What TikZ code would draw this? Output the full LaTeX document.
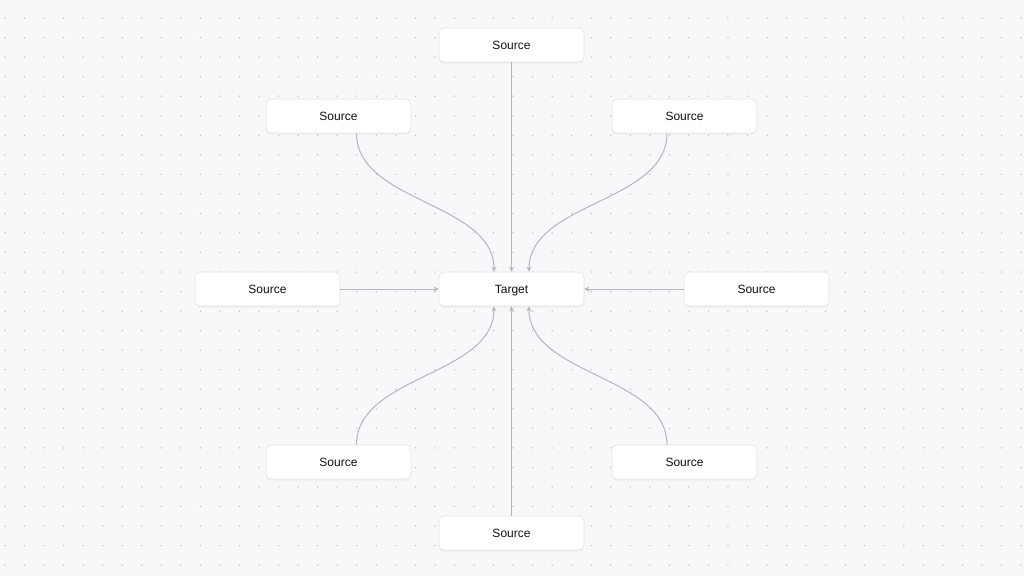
\documentclass[tikz,border=0pt]{standalone}
\usepackage{fontspec}
\setmainfont{Liberation Sans}
\usetikzlibrary{arrows.meta,shadows}
\definecolor{canvas}{HTML}{F7F8FA}
\definecolor{griddot}{HTML}{B8BAC0}
\definecolor{wire}{HTML}{B5B5BB}
\definecolor{rim}{HTML}{E4E5E8}
\definecolor{ink}{HTML}{111111}
\tikzset{
  card/.style={draw=rim, line width=0.6pt, fill=white, rounded corners=5pt,
    minimum width=145pt, minimum height=34pt, inner sep=0pt,
    text height=9.6pt, text depth=1.6pt,
    text=ink, font=\fontsize{12}{14}\selectfont,
    drop shadow={opacity=0.09, shadow xshift=0pt, shadow yshift=-1.5pt}},
  wireline/.style={draw=wire, line width=1pt, -{Stealth[length=5pt,width=5pt]}}
}
\begin{document}
\begin{tikzpicture}[x=1pt,y=-1pt]
  % canvas and dotted grid
  \fill[canvas] (0,0) rectangle (1024,576);
  \useasboundingbox (0,0) rectangle (1024,576);
  \foreach \i in {0,...,52}{
    \foreach \j in {0,...,28}{
      \fill[griddot] ({5+\i*19.54},{18+\j*19.54}) circle (0.75pt);
    }
  }

  % nodes
  \node[card] (t)  at (511.5,289) {Target};
  \node[card] (n)  at (511.5,45)  {Source};
  \node[card] (nw) at (338.5,116) {Source};
  \node[card] (ne) at (684.5,116) {Source};
  \node[card] (w)  at (267.5,289) {Source};
  \node[card] (e)  at (756.5,289) {Source};
  \node[card] (sw) at (338.5,462) {Source};
  \node[card] (se) at (684.5,462) {Source};
  \node[card] (s)  at (511.5,533) {Source};

  % connectors into the target
  \draw[wireline] (n.south) -- (t.north);
  \draw[wireline] (s.north) -- (t.south);
  \draw[wireline] (w.east) -- (t.west);
  \draw[wireline] (e.west) -- (t.east);
  \draw[wireline] ([xshift=18pt]nw.south) .. controls +(0,69.5) and +(0,-69.5) .. ([xshift=-17.5pt]t.north);
  \draw[wireline] ([xshift=-17.5pt]ne.south) .. controls +(0,69.5) and +(0,-69.5) .. ([xshift=17.5pt]t.north);
  \draw[wireline] ([xshift=18pt]sw.north) .. controls +(0,-69.5) and +(0,69.5) .. ([xshift=-17.5pt]t.south);
  \draw[wireline] ([xshift=-17.5pt]se.north) .. controls +(0,-69.5) and +(0,69.5) .. ([xshift=17.5pt]t.south);
\end{tikzpicture}
\end{document}
